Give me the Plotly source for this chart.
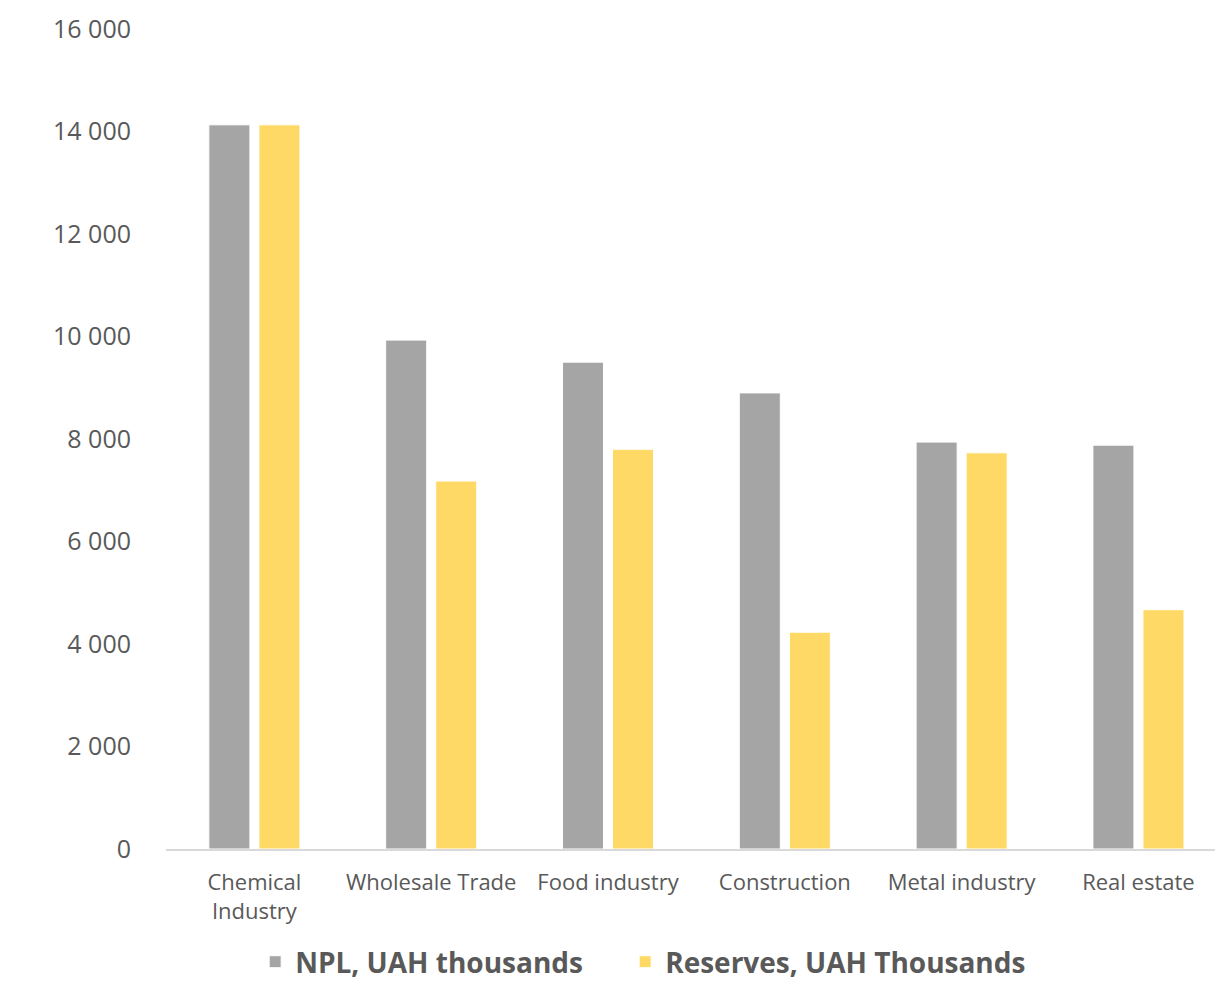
import plotly.graph_objects as go

# Sector breakdown of non-performing loans and the reserves held against them
sectors = ["Chemical<br>Industry", "Wholesale Trade", "Food industry",
           "Construction", "Metal industry", "Real estate"]
npl_values = [14130, 9930, 9500, 8900, 7940, 7880]
reserve_values = [14130, 7180, 7800, 4230, 7730, 4670]
y_ticks = [0, 2000, 4000, 6000, 8000, 10000, 12000, 14000, 16000]
y_tick_text = ["0", "2 000", "4 000", "6 000", "8 000", "10 000", "12 000", "14 000", "16 000"]

TEXT = "#595959"
FONT = "'Open Sans', Lato, sans-serif"

fig = go.Figure()
fig.add_trace(go.Bar(
    x=sectors, y=npl_values, name="NPL, UAH thousands", legend="legend",
    marker=dict(color="#A5A5A5", line=dict(color="#FFFFFF", width=1)),
))
fig.add_trace(go.Bar(
    x=sectors, y=reserve_values, name="Reserves, UAH Thousands", legend="legend2",
    marker=dict(color="#FFD966", line=dict(color="#FFFFFF", width=1)),
))

legend_style = dict(
    orientation="h", xanchor="left", y=-0.1378, yanchor="middle",
    font=dict(size=28, color=TEXT, family=FONT, weight="bold"),
    bgcolor="rgba(0,0,0,0)",
)

fig.update_layout(
    width=1215, height=983,
    margin=dict(l=166, r=0, t=29, b=134, autoexpand=False),
    paper_bgcolor="white", plot_bgcolor="white",
    barmode="group", bargap=0.434, bargroupgap=0.18,
    font=dict(family=FONT, color=TEXT),
    showlegend=True,
    legend=dict(x=0.085, **legend_style),
    legend2=dict(x=0.4377, **legend_style),
    xaxis=dict(
        range=[-0.5, 5.433], showline=True, linecolor="#D9D9D9", linewidth=1.5,
        showgrid=False, ticks="", tickfont=dict(size=22, color=TEXT),
        ticklabelstandoff=13,
    ),
    yaxis=dict(
        range=[0, 16000], tickvals=y_ticks, ticktext=y_tick_text,
        showgrid=False, zeroline=False, showline=False, ticks="",
        tickfont=dict(size=25, color=TEXT), ticklabelstandoff=34,
    ),
)

fig.write_html("out.html")
